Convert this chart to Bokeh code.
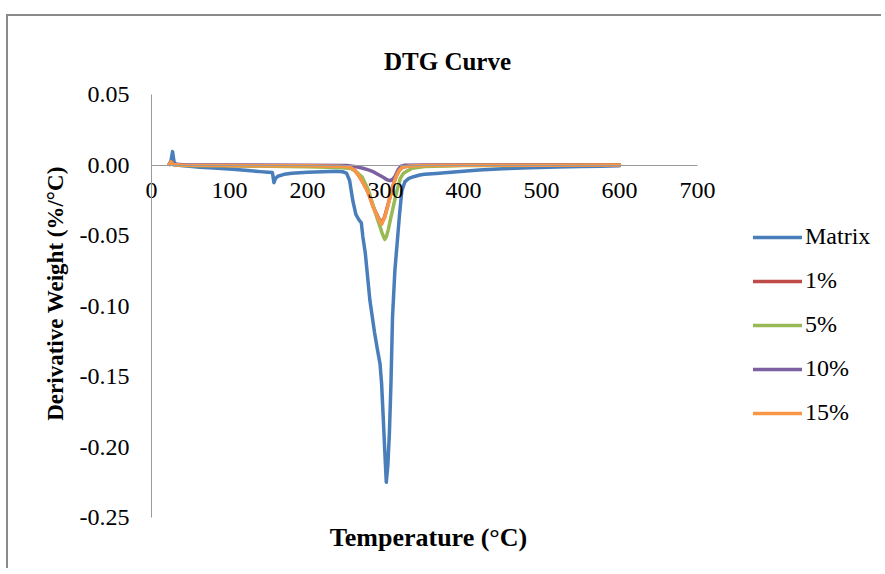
import math
from bokeh.plotting import figure
from bokeh.models import Range1d, FixedTicker, Legend, LegendItem, Label, NumeralTickFormatter
from bokeh.embed import file_html
from bokeh.resources import INLINE

FONT = "Liberation Serif"

# ---- data ----
x_ticks = [0, 100, 200, 300, 400, 500, 600, 700]
y_ticks = [-0.25, -0.20, -0.15, -0.10, -0.05, 0.00, 0.05]

matrix_x = [23, 25, 27, 29, 32, 45, 62, 80, 104, 120, 139, 150, 155, 157, 159, 162, 170, 180,
            200, 220, 237, 245, 250, 254, 258, 262, 266, 269, 271, 274, 280, 286, 290, 293,
            295, 297, 299, 301, 303, 305, 307, 309, 312, 315, 318, 321, 325, 330, 336, 344,
            350, 365, 380, 400, 420, 450, 485, 520, 550, 575, 600]
matrix_y = [0.001, 0.003, 0.0095, 0.002, 0.0, -0.0008, -0.0016, -0.0022, -0.003, -0.0038,
            -0.0047, -0.0051, -0.0053, -0.0125, -0.0095, -0.0080, -0.0066, -0.0058,
            -0.0051, -0.0047, -0.0044, -0.0048, -0.0058, -0.011, -0.025, -0.035, -0.039,
            -0.041, -0.051, -0.062, -0.096, -0.119, -0.132, -0.141, -0.155, -0.178, -0.202,
            -0.225, -0.213, -0.19, -0.155, -0.108, -0.075, -0.055, -0.035, -0.018, -0.0118,
            -0.0095, -0.0083, -0.0071, -0.0066, -0.0060, -0.0054, -0.0045, -0.0035, -0.0027,
            -0.0019, -0.0014, -0.0010, -0.0008, -0.0006]

p15_x = [23, 25, 28, 40, 100, 150, 200, 240, 254, 260, 265, 270, 276, 280, 284, 288, 291, 295,
         299, 302, 306, 309, 312, 315, 318, 322, 331, 350, 400, 500, 600]
p15_y = [0.0005, 0.0023, 0.0003, -0.0002, -0.0004, -0.0005, -0.0006, -0.0008, -0.0015, -0.0035,
         -0.007, -0.0115, -0.0177, -0.023, -0.0296, -0.0345, -0.038, -0.042, -0.037, -0.031,
         -0.0225, -0.016, -0.0106, -0.0065, -0.0035, -0.0015, -0.0007, -0.0003, -0.0002,
         -0.0001, 0.0]

p1_x = [23, 25, 28, 40, 100, 150, 200, 240, 254, 260, 265, 270, 276, 280, 284, 288, 291, 295,
        299, 302, 306, 309, 312, 315, 318, 322, 331, 350, 400, 500, 600]
p1_y = [0.0005, 0.0020, 0.0003, -0.0002, -0.0004, -0.0005, -0.0006, -0.0008, -0.0015, -0.0034,
        -0.0068, -0.0113, -0.0174, -0.0226, -0.0292, -0.0340, -0.0375, -0.0412, -0.0365,
        -0.0305, -0.0222, -0.0158, -0.0105, -0.0064, -0.0035, -0.0015, -0.0007, -0.0003,
        -0.0002, -0.0001, 0.0]

p5_x = [23, 25, 28, 40, 100, 150, 200, 240, 256, 263, 270, 278, 282, 286, 290, 293, 296, 299,
        301, 303.5, 307, 310, 313, 316, 319, 323, 334, 350, 400, 500, 600]
p5_y = [0.0005, 0.0015, 0.0002, -0.0003, -0.0006, -0.0009, -0.0013, -0.0018, -0.0025, -0.005,
        -0.0085, -0.0177, -0.025, -0.032, -0.039, -0.0437, -0.049, -0.0527, -0.051, -0.046,
        -0.037, -0.0296, -0.022, -0.0154, -0.0095, -0.0059, -0.0023, -0.001, -0.0004,
        -0.0002, 0.0]

p10_x = [23, 28, 40, 100, 200, 250, 260, 271, 278, 284, 290, 297, 302, 306, 309, 312, 316, 320,
         325, 350, 400, 500, 600]
p10_y = [0.0003, 0.0008, 0.0002, 0.0, -0.0001, -0.0003, -0.001, -0.0023, -0.0035, -0.0047,
         -0.0065, -0.0087, -0.0105, -0.0111, -0.0102, -0.0083, -0.0035, -0.0008, -0.0002,
         0.0, 0.0, 0.0, 0.0]

series_names = ["Matrix", "1%", "5%", "10%", "15%"]
series_colors = ["#4A7EBB", "#BE4B48", "#98B954", "#7D60A0", "#F79646"]

# ---- layout constants (page pixels) ----
W, H = 875, 554
OX, OY = 8, 16                 # canvas origin on the page
AX_L, AX_R = 151, 697          # x = 0 .. 700
AX_T, AX_B = 94, 517           # y = 0.05 .. -0.25
xs_per = (AX_R - AX_L) / 700.0
ys_per = (AX_B - AX_T) / 0.30
x0 = (OX - AX_L) / xs_per
x1 = (OX + W - AX_L) / xs_per
y1 = 0.05 + (AX_T - OY) / ys_per
y0 = -0.25 - (OY + H - AX_B) / ys_per

p = figure(width=W, height=H, output_backend="svg", toolbar_location=None,
           x_range=Range1d(x0, x1), y_range=Range1d(y0, y1),
           min_border=0, min_border_left=0, min_border_right=0,
           min_border_top=0, min_border_bottom=0)
p.styles = {"margin-top": "14px", "margin-left": "6px",
            "border-top": "2px solid #8a8a8a", "border-left": "2px solid #8a8a8a"}
p.outline_line_color = None
p.grid.visible = False
p.background_fill_color = "white"
p.border_fill_color = "white"

ax = p.xaxis[0]
ax.fixed_location = 0
ax.bounds = (0, 700)
ax.ticker = FixedTicker(ticks=x_ticks)
ax.major_tick_line_color = None
ax.minor_tick_line_color = None
ax.axis_line_color = "#9a9a9a"
ax.axis_line_width = 1
ax.major_label_standoff = 12
ax.major_label_text_font = FONT
ax.major_label_text_font_size = "24px"
ax.major_label_text_color = "black"

ay = p.yaxis[0]
ay.fixed_location = 0
ay.bounds = (-0.25, 0.05)
ay.ticker = FixedTicker(ticks=y_ticks)
ay.formatter = NumeralTickFormatter(format="0.00")
ay.major_tick_line_color = None
ay.minor_tick_line_color = None
ay.axis_line_color = "#9a9a9a"
ay.axis_line_width = 1
ay.major_label_standoff = 16
ay.major_label_text_font = FONT
ay.major_label_text_font_size = "24px"
ay.major_label_text_color = "black"

def sy(page_y):
    return OY + H - page_y

p.add_layout(Label(x=447 - OX, y=sy(61), x_units="screen", y_units="screen",
                   text="DTG Curve", text_font=FONT, text_font_size="25px",
                   text_font_style="bold", text_align="center", text_baseline="middle",
                   text_color="black"))
p.add_layout(Label(x=428 - OX, y=sy(537), x_units="screen", y_units="screen",
                   text="Temperature (°C)", text_font=FONT, text_font_size="26px",
                   text_font_style="bold", text_align="center", text_baseline="middle",
                   text_color="black"))
p.add_layout(Label(x=55 - OX, y=sy(293), x_units="screen", y_units="screen",
                   text="Derivative Weight (%/°C)", text_font=FONT, text_font_size="23px",
                   text_font_style="bold", text_align="center", text_baseline="middle",
                   angle=math.pi / 2, text_color="black"))

data = [(matrix_x, matrix_y), (p1_x, p1_y), (p5_x, p5_y), (p10_x, p10_y), (p15_x, p15_y)]
items = []
for (xs, ys), name, col in zip(data, series_names, series_colors):
    r = p.line(xs, ys, line_color=col, line_width=3.5, line_join="round", line_cap="round")
    items.append(LegendItem(label=name, renderers=[r]))

legend = Legend(items=items, location=(753 - OX, sy(426)), border_line_color=None,
                background_fill_alpha=0, padding=0, margin=0, spacing=17,
                label_height=24, glyph_height=24, glyph_width=49, label_standoff=3,
                label_text_font=FONT, label_text_font_size="24px", label_text_color="black")
p.add_layout(legend)

open("out.html", "w").write(file_html(p, INLINE))
